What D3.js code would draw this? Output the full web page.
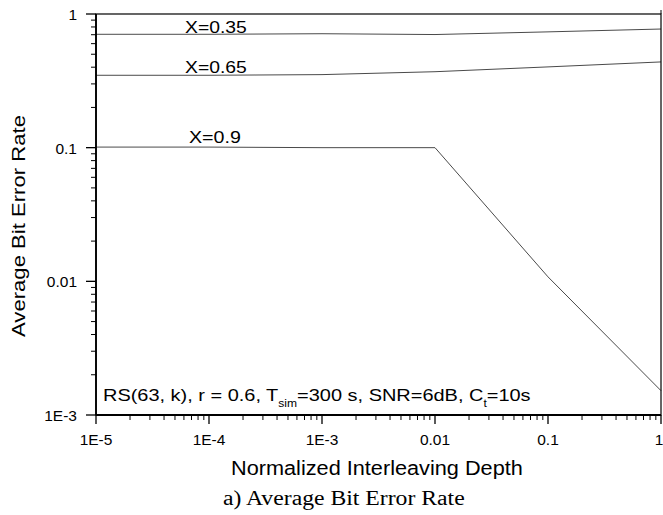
<!DOCTYPE html>
<html>
<head>
<meta charset="utf-8">
<script src="https://cdn.jsdelivr.net/npm/d3@7/dist/d3.min.js"></script>
<style>
  html, body { margin: 0; padding: 0; background: #fff; }
  svg { display: block; }
  text { font-family: Arial, "Liberation Sans", sans-serif; fill: #000; }
</style>
</head>
<body>
<svg id="chart" width="663" height="515"></svg>
<script>
// Interleaving depths (normalized) and average BER per code-rate parameter X
const depths = [1e-5, 1e-4, 1e-3, 1e-2, 1e-1, 1];
const ber035 = [0.705, 0.705, 0.712, 0.702, 0.735, 0.772];
const ber065 = [0.348, 0.348, 0.352, 0.370, 0.402, 0.438];
const ber090 = [0.101, 0.101, 0.100, 0.100, 0.0108, 0.00152];
const seriesNames = ["X=0.35", "X=0.65", "X=0.9"];
const xTickLabels = ["1E-5", "1E-4", "1E-3", "0.01", "0.1", "1"];
const yTickValues = [1e-3, 1e-2, 1e-1, 1];
const yTickLabels = ["1E-3", "0.01", "0.1", "1"];

const svg = d3.select("#chart");
const plotL = 96, plotR = 661, plotT = 14, plotB = 415;

const x = d3.scaleLog().domain([1e-5, 1]).range([plotL, plotR]);
const y = d3.scaleLog().domain([1e-3, 1]).range([plotB, plotT]);

// minor ticks 2..9 per decade
function minors(lo, hi) {
  const out = [];
  for (let e = lo; e < hi; e++) for (let m = 2; m <= 9; m++) out.push(m * Math.pow(10, e));
  return out;
}

// stretch a left-anchored text horizontally to a given width
function fitWidth(sel, x0, width) {
  const w = sel.node().getBBox().width;
  const s = width / w;
  sel.attr("transform", `translate(${x0},0) scale(${s},1) translate(${-x0},0)`);
}

// curves (drawn first so the frame sits on top)
const line = d3.line().x((d, i) => x(depths[i])).y(d => y(d));
[ber035, ber065, ber090].forEach(s => {
  svg.append("path").datum(s)
    .attr("d", line)
    .attr("fill", "none").attr("stroke", "#4a4a4a").attr("stroke-width", 1);
});

// frame
svg.append("rect")
  .attr("x", plotL).attr("y", plotT)
  .attr("width", plotR - plotL).attr("height", plotB - plotT)
  .attr("fill", "none").attr("stroke", "#000").attr("stroke-width", 1.2);
svg.append("line").attr("x1", plotR).attr("x2", plotR).attr("y1", plotT - 4).attr("y2", plotT)
  .attr("stroke", "#000").attr("stroke-width", 1);

// x axis
const xAxis = svg.append("g").attr("transform", `translate(0,${plotB})`);
xAxis.append("line").attr("x1", plotL).attr("x2", plotR).attr("stroke", "#000").attr("stroke-width", 1.8);
xAxis.selectAll(".xmin").data(minors(-5, 0)).join("line")
  .attr("x1", d => x(d)).attr("x2", d => x(d)).attr("y1", 0).attr("y2", 5)
  .attr("stroke", "#000").attr("stroke-width", 1);
xAxis.selectAll(".xmaj").data(depths).join("line")
  .attr("x1", d => x(d)).attr("x2", d => x(d)).attr("y1", 0).attr("y2", 9)
  .attr("stroke", "#000").attr("stroke-width", 1.3);
xAxis.selectAll(".xlab").data(depths).join("text")
  .attr("x", (d, i) => i === depths.length - 1 ? x(d) - 2 : x(d)).attr("y", 30)
  .attr("text-anchor", "middle").attr("font-size", 15.5)
  .text((d, i) => xTickLabels[i]);

// y axis
const yAxis = svg.append("g").attr("transform", `translate(${plotL},0)`);
yAxis.append("line").attr("y1", plotT).attr("y2", plotB).attr("stroke", "#000").attr("stroke-width", 1.8);
yAxis.selectAll(".ymin").data(minors(-3, 0)).join("line")
  .attr("y1", d => y(d)).attr("y2", d => y(d)).attr("x1", 0).attr("x2", -5)
  .attr("stroke", "#000").attr("stroke-width", 1);
yAxis.selectAll(".ymaj").data(yTickValues).join("line")
  .attr("y1", d => y(d)).attr("y2", d => y(d)).attr("x1", 0).attr("x2", -10)
  .attr("stroke", "#000").attr("stroke-width", 1.3);
yAxis.selectAll(".ylab").data(yTickValues).join("text")
  .attr("x", -19).attr("y", d => y(d) + 6)
  .attr("text-anchor", "end").attr("font-size", 15.5)
  .text((d, i) => yTickLabels[i]);

// curve labels
const labelPos = [[185, 33, 62], [185, 73, 62], [189, 143, 52]];
seriesNames.forEach((n, i) => {
  const t = svg.append("text").attr("x", labelPos[i][0]).attr("y", labelPos[i][1])
    .attr("font-size", 16).text(n);
  fitWidth(t, labelPos[i][0], labelPos[i][2]);
});

// simulation parameters
const note = svg.append("text").attr("x", 103).attr("y", 401).attr("font-size", 16.5);
note.append("tspan").text("RS(63, k), r = 0.6, T");
note.append("tspan").attr("font-size", 10).attr("dy", 6).text("sim");
note.append("tspan").attr("dy", -6).text("=300 s, SNR=6dB, C");
note.append("tspan").attr("font-size", 10).attr("dy", 6).text("t");
note.append("tspan").attr("dy", -6).text("=10s");
fitWidth(note, 103, 428);

// axis titles
const xTitle = svg.append("text").attr("x", 231).attr("y", 475)
  .attr("font-size", 21).text("Normalized Interleaving Depth");
fitWidth(xTitle, 231, 292);

const yTitleG = svg.append("g").attr("transform", "translate(25,337) rotate(-90)");
const yTitle = yTitleG.append("text").attr("x", 0).attr("y", 0)
  .attr("font-size", 19).text("Average Bit Error Rate");
fitWidth(yTitle, 0, 222);

// caption
const caption = svg.append("text").attr("x", 223).attr("y", 505)
  .attr("font-size", 20)
  .style("font-family", "'Liberation Serif', 'Times New Roman', serif")
  .text("a) Average Bit Error Rate");
fitWidth(caption, 223, 242);
</script>
</body>
</html>
